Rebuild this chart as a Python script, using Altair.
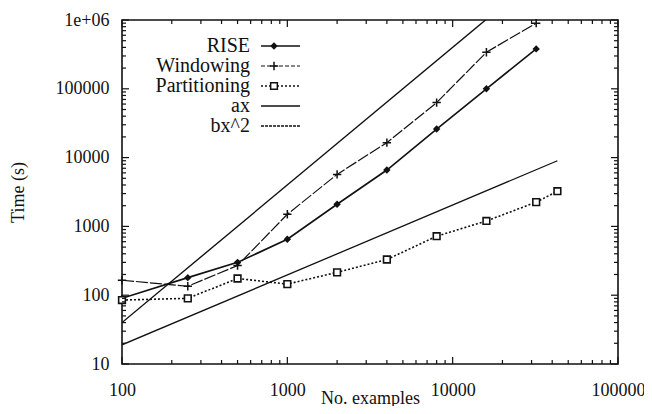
import altair as alt
import pandas as pd

# ---- data ----
x_rw = [100, 250, 500, 1000, 2000, 4000, 8000, 16000, 32000]
rise = [90, 180, 300, 650, 2100, 6600, 26000, 100000, 380000]
windowing = [165, 135, 270, 1500, 5700, 16500, 63000, 340000, 900000]
x_part = [100, 250, 500, 1000, 2000, 4000, 8000, 16000, 32000, 43000]
partitioning = [85, 90, 175, 145, 215, 330, 720, 1200, 2250, 3250]
x_ax = [100, 43000]
ax_vals = [19, 9000]
x_bx2 = [100, 32000]
bx2_vals = [40, 4100000]

x_major = [100, 1000, 10000, 100000]
y_major = [10, 100, 1000, 10000, 100000, 1000000]
x_minor = [k * 10 ** e for e in (2, 3, 4) for k in range(2, 10)]
y_minor = [k * 10 ** e for e in range(1, 6) for k in range(2, 10)]

legend_names = ["RISE", "Windowing", "Partitioning", "ax", "bx^2"]

FONT = "Liberation Serif"
INK = "#111111"
W, H = 496, 344

xs = alt.Scale(type="log", domain=[100, 100000], nice=False)
ys = alt.Scale(type="log", domain=[10, 1000000], nice=False)

df_rise = pd.DataFrame({"x": x_rw, "y": rise})
df_win = pd.DataFrame({"x": x_rw, "y": windowing})
df_part = pd.DataFrame({"x": x_part, "y": partitioning})
df_ax = pd.DataFrame({"x": x_ax, "y": ax_vals})
df_bx2 = pd.DataFrame({"x": x_bx2, "y": bx2_vals})

ax_x_label = alt.Axis(orient="bottom", values=x_major, ticks=False, domain=False, grid=False,
                      format="d", labelFont=FONT, labelFontSize=18, labelColor=INK,
                      labelPadding=17, labelFlush=False,
                      title="No. examples", titleFont=FONT, titleFontSize=18,
                      titleFontWeight="normal", titleColor=INK, titlePadding=-10)
ax_y_label = alt.Axis(orient="left", values=y_major, ticks=False, domain=False, grid=False,
                      labelExpr="datum.value >= 1000000 ? '1e+06' : format(datum.value, 'd')",
                      labelFont=FONT, labelFontSize=18, labelColor=INK,
                      labelPadding=13, labelFlush=False,
                      title="Time (s)", titleFont=FONT, titleFontSize=18,
                      titleFontWeight="normal", titleColor=INK, titlePadding=28)


def enc(xaxis=None, yaxis=None):
    return dict(x=alt.X("x:Q", scale=xs, axis=xaxis),
                y=alt.Y("y:Q", scale=ys, axis=yaxis))


l_ax = alt.Chart(df_ax).mark_line(color=INK, strokeWidth=1.3, clip=True).encode(
    **enc(ax_x_label, ax_y_label))
l_bx2 = alt.Chart(df_bx2).mark_line(color=INK, strokeWidth=1.4, clip=True).encode(**enc())
l_rise = alt.Chart(df_rise).mark_line(color=INK, strokeWidth=1.6, clip=True).encode(**enc())
l_win = alt.Chart(df_win).mark_line(color=INK, strokeWidth=1.2, strokeDash=[12, 2], clip=True).encode(**enc())
l_part = alt.Chart(df_part).mark_line(color=INK, strokeWidth=1.6, strokeDash=[2, 2], clip=True).encode(**enc())

PLUS = "M-1,0L1,0M0,-1L0,1"
p_rise = alt.Chart(df_rise).mark_point(shape="diamond", filled=True, color=INK, size=55, opacity=1).encode(**enc())
p_win = alt.Chart(df_win).mark_point(shape=PLUS, filled=False, color=INK, size=70, strokeWidth=1.5, opacity=1).encode(**enc())
p_part = alt.Chart(df_part).mark_point(shape="square", filled=False, fill="white", fillOpacity=1,
                                       stroke=INK, size=45, strokeWidth=1.6, opacity=1).encode(**enc())

# ---- inward gnuplot-style ticks on all four sides ----
tick_layers = []
for vals, size in ((x_major, 7), (x_minor, 4)):
    dfx = pd.DataFrame({"x": vals})
    xe = alt.X("x:Q", scale=xs, axis=None)
    tick_layers.append(alt.Chart(dfx).mark_tick(orient="vertical", size=size, thickness=1.2, color=INK,
                                                opacity=1, yOffset=-size / 2).encode(x=xe, y=alt.value(H)))
    tick_layers.append(alt.Chart(dfx).mark_tick(orient="vertical", size=size, thickness=1.2, color=INK,
                                                opacity=1, yOffset=size / 2).encode(x=xe, y=alt.value(0)))
for vals, size in ((y_major, 7), (y_minor, 4)):
    dfy = pd.DataFrame({"y": vals})
    ye = alt.Y("y:Q", scale=ys, axis=None)
    tick_layers.append(alt.Chart(dfy).mark_tick(orient="horizontal", size=size, thickness=1.2, color=INK,
                                                opacity=1, xOffset=size / 2).encode(y=ye, x=alt.value(0)))
    tick_layers.append(alt.Chart(dfy).mark_tick(orient="horizontal", size=size, thickness=1.2, color=INK,
                                                opacity=1, xOffset=-size / 2).encode(y=ye, x=alt.value(W)))

# ---- gnuplot-style key (label left of sample) ----
styles = [
    dict(dash=None, w=1.6, shape="diamond", filled=True),
    dict(dash=[4, 2], w=1.2, shape=PLUS, filled=False),
    dict(dash=[2, 2], w=1.6, shape="square", filled=False),
    dict(dash=None, w=1.3, shape=None, filled=False),
    dict(dash=[3, 1], w=1.4, shape=None, filled=False),
]
one = pd.DataFrame({"k": [0]})
legend_layers = []
for i, (name, st) in enumerate(zip(legend_names, styles)):
    yy = 26 + 20 * i
    legend_layers.append(
        alt.Chart(one).mark_text(text=name, align="right", baseline="middle", font=FONT,
                                 fontSize=20, color=INK).encode(x=alt.value(128), y=alt.value(yy)))
    rule_kw = dict(color=INK, strokeWidth=st["w"])
    if st["dash"]:
        rule_kw["strokeDash"] = st["dash"]
    legend_layers.append(
        alt.Chart(one).mark_rule(**rule_kw).encode(x=alt.value(139), x2=alt.value(178), y=alt.value(yy)))
    if st["shape"]:
        pk = dict(shape=st["shape"], filled=st["filled"], color=INK, opacity=1, strokeWidth=1.5)
        if st["shape"] == "square":
            pk.update(fill="white", fillOpacity=1, stroke=INK, size=45)
        elif st["shape"] == "diamond":
            pk.update(size=55)
        else:
            pk.update(size=70)
        legend_layers.append(
            alt.Chart(one).mark_point(**pk).encode(x=alt.value(152), y=alt.value(yy)))

chart = alt.layer(l_ax, l_bx2, l_rise, l_win, l_part, p_rise, p_win, p_part,
                  *tick_layers, *legend_layers).resolve_axis(
    x="independent", y="independent"
).properties(
    width=W, height=H,
    autosize=alt.AutoSizeParams(type="none"),
    padding={"left": 114, "top": 12, "right": 26, "bottom": 42},
    background="white",
).configure_view(stroke=INK, strokeWidth=1.6)

chart.save("out.html", embed_options={"renderer": "svg", "actions": False})
